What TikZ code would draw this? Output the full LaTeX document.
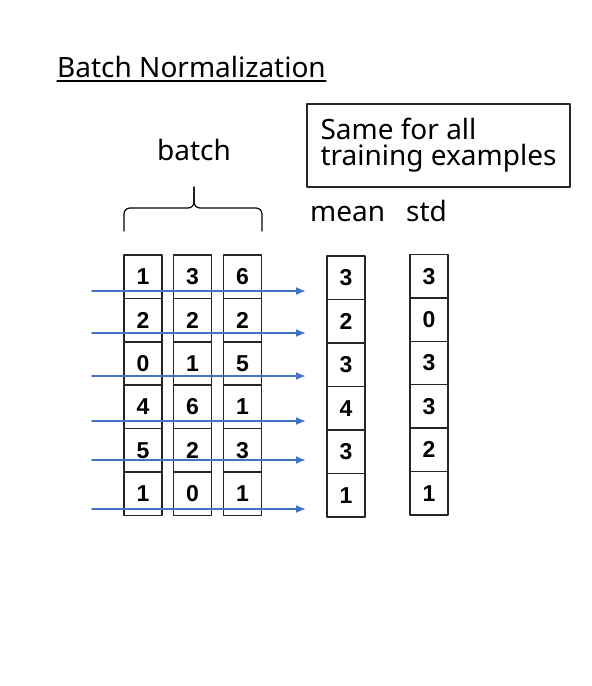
\documentclass[tikz,border=0pt]{standalone}
\usepackage{fontspec}
\setmainfont{Noto Sans}
\newfontfamily\cellfont{Liberation Sans}
\usetikzlibrary{arrows.meta}
\definecolor{flowblue}{HTML}{4472C4}
\begin{document}
\begin{tikzpicture}[x=1pt,y=-1pt,line cap=round,line join=round,
  label/.style={inner sep=0pt,anchor=base west,font=\fontsize{28}{28}\selectfont},
  cell/.style={draw=black!85,line width=1.4pt,minimum width=38pt,minimum height=43.5pt,
    inner sep=0pt,font=\cellfont\bfseries\fontsize{23}{23}\selectfont},
  flow/.style={draw=flowblue,line width=1.8pt,-{Latex[length=10pt,width=8pt]}}]
  \useasboundingbox (0,0) rectangle (592,686);
  \node[label] (title) at (57,77) {Batch Normalization};
  \draw[line width=1.1pt] ([yshift=-4pt]title.base west) -- ([yshift=-4pt]title.base east);
  \node[label] (batch) at (157,160) {batch};
  \node[draw=black!85,line width=1.2pt,minimum width=263pt,minimum height=83pt,
    align=left,inner sep=0pt,font=\fontsize{28}{26}\selectfont]
    (note) at (438.5,145.5) {Same for all\\training examples};
  \node[label] (mean) at (310,221) {mean};
  \node[label] (std) at (406,221) {std};
  \draw[line width=1.2pt,rounded corners=6pt] (124,231) -- (124,208) -- (194,208) -- (194,187);
  \draw[line width=1.2pt,rounded corners=6pt] (194,187) -- (194,208) -- (262,208) -- (262,231);
  \foreach \a/\b/\c/\m/\s [count=\i] in {1/3/6/3/3,2/2/2/2/0,0/1/5/3/3,4/6/1/4/3,5/2/3/3/2,1/0/1/1/1} {
    \node[cell] (x1-\i) at (143,233.3+43.4*\i) {\a};
    \node[cell] (x2-\i) at (192.5,233.3+43.4*\i) {\b};
    \node[cell] (x3-\i) at (242.5,233.3+43.4*\i) {\c};
    \node[cell] (mu-\i) at (346,234.3+43.5*\i) {\m};
    \node[cell] (sd-\i) at (429,232.8+43.4*\i) {\s};
  }
  \foreach \y [count=\i] in {291,333,376,421,460,509} {
    \coordinate (in-\i) at (92,\y);
    \coordinate (out-\i) at (306,\y);
    \draw[flow] (in-\i) -- (out-\i);
  }
\end{tikzpicture}
\end{document}
